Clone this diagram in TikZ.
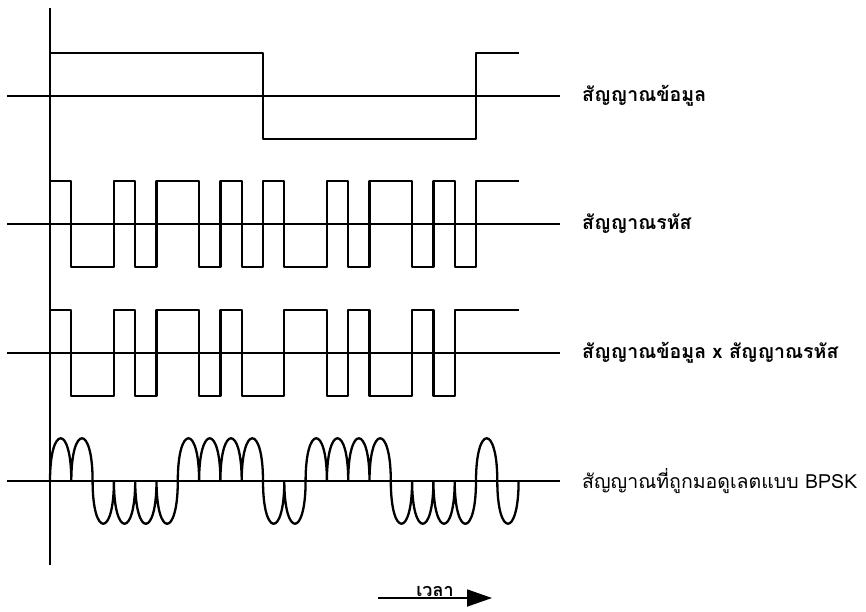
\documentclass[tikz,border=0pt]{standalone}
\usepackage{fontspec}
\newfontfamily\thaifont[Script=Thai]{Loma}
\usepackage{tikz}
\usetikzlibrary{arrows.meta}

\begin{document}
\begin{tikzpicture}[
    x=1pt, y=-1pt,
    sig/.style={line width=2.3pt, line join=round},
    base/.style={line width=2.3pt},
    lbl/.style={anchor=west, inner sep=0pt, font=\thaifont\fontsize{19.5}{23}\selectfont\bfseries},
    lblthin/.style={lbl, font=\thaifont\fontsize{19.5}{23}\selectfont},
    timearr/.style={-{Triangle[length=25pt, width=17pt]}, line width=1.8pt},
]
\useasboundingbox (0,0) rectangle (866,611);

% Axis and base lines
\draw[base] (50,8) -- (50,565);
\foreach \yb in {96,224,353,481}
  \draw[base] (7,\yb) -- (560,\yb);

% Waveforms (x in chips, from the axis)
\begin{scope}[shift={(50,0)}, x=21.3pt]
% data
\draw[sig] (0,53) -- (10,53) -- (10,139) -- (20,139) -- (20,53) -- (22,53);
% code
\draw[sig] (0,181) \foreach \s [count=\i from 0] in {1,-1,-1,1,-1,1,1,-1,1,-1,1,-1,-1,1,-1,1,1,-1,1,-1,1,1}
  { -- (\i,{224-(\s)*43}) -- (\i+1,{224-(\s)*43}) };
% data x code
\draw[sig] (0,310) \foreach \s [count=\i from 0] in {1,-1,-1,1,-1,1,1,-1,1,-1,-1,1,1,-1,1,-1,-1,1,-1,1,1,1}
  { -- (\i,{353-(\s)*43}) -- (\i+1,{353-(\s)*43}) };
% BPSK
\draw[sig] (0,481) \foreach \s [count=\i from 0] in {1,1,-1,-1,-1,-1,1,1,1,1,-1,-1,1,1,1,1,-1,-1,-1,-1,1,-1}
  { .. controls (\i,{481-(\s)*57}) and (\i+1,{481-(\s)*57}) .. (\i+1,481) };
\end{scope}

% Labels
\node[lbl] (lbldata) at (582,96) {สัญญาณข้อมูล};
\node[lbl] (lblcode) at (582,224) {สัญญาณรหัส};
\node[lbl] (lblprod) at (582,353) {สัญญาณข้อมูล x สัญญาณรหัส};
\node[lblthin] (lblbpsk) at (582,481) {สัญญาณที่ถูกมอดูเลตแบบ BPSK};

% Time arrow
\coordinate (tstart) at (378,598);
\coordinate (tend) at (492,598);
\draw[timearr] (tstart) -- node[above, font=\thaifont\fontsize{18}{21}\selectfont\bfseries, inner sep=0.3pt] (tlbl) {เวลา} (tend);
\end{tikzpicture}
\end{document}
